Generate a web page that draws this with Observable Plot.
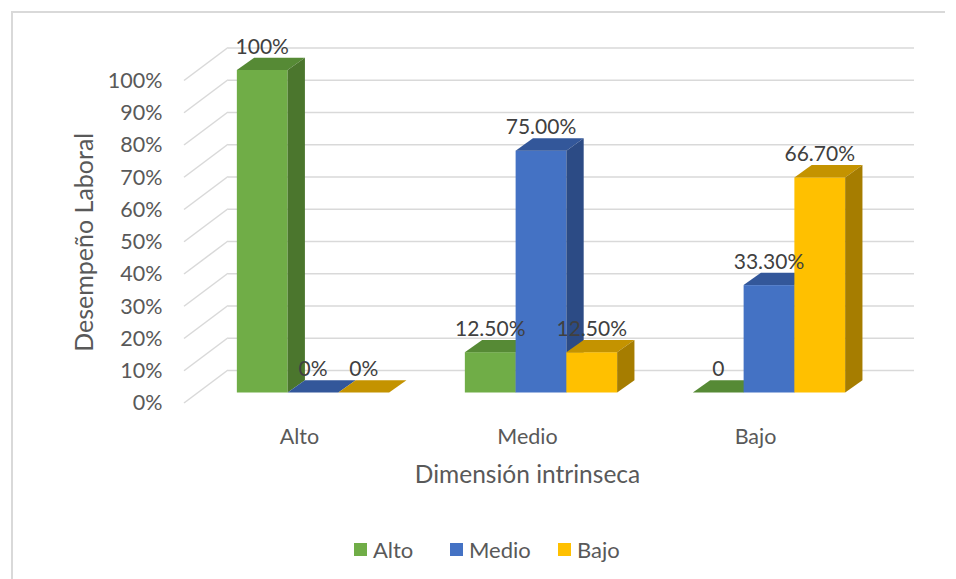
<!DOCTYPE html>
<html><head><meta charset="utf-8">
<script src="https://cdn.jsdelivr.net/npm/d3@7"></script>
<script src="https://cdn.jsdelivr.net/npm/@observablehq/plot@0.6"></script>
<style>
body{margin:0;background:#fff;font-family:Lato,"Open Sans",sans-serif;}
#wrap{position:relative;width:956px;height:579px;overflow:hidden;background:#fff}
#chart{position:absolute;left:0;top:0}
.bt{position:absolute;left:11px;top:11px;width:934px;height:1.5px;background:#d9d9d9}
.bl{position:absolute;left:11px;top:11px;width:1.5px;height:568px;background:#d9d9d9}
#legend{position:absolute;top:520px;left:0;width:956px;height:59px}
.item{position:absolute;top:0;height:59px;display:flex;align-items:center;font-size:22px;color:#595959;white-space:nowrap}
.sw{width:13px;height:13px;margin-right:6px}
</style></head>
<body>
<div id="wrap"><div class="bt"></div><div class="bl"></div><div id="chart"></div><div id="legend"></div></div>
<script>
const categories = ["Alto", "Medio", "Bajo"];
const series = ["Alto", "Medio", "Bajo"];
const altoValues = [1.00, 0.125, 0];
const medioValues = [0, 0.75, 0.333];
const bajoValues = [0, 0.125, 0.667];
const altoLabels = ["100%", "12.50%", "0"];
const medioLabels = ["0%", "75.00%", "33.30%"];
const bajoLabels = ["0%", "12.50%", "66.70%"];
const yTicks = [0, 0.1, 0.2, 0.3, 0.4, 0.5, 0.6, 0.7, 0.8, 0.9, 1.0];
const yTickLabels = ["0%", "10%", "20%", "30%", "40%", "50%", "60%", "70%", "80%", "90%", "100%"];

const colors = ["#70AD47", "#4472C4", "#FFC000"];
const topColors = ["#568A35", "#33579A", "#C49300"];
const sideColors = ["#4B762D", "#2C4B85", "#A67D00"];

const seriesValues = [altoValues, medioValues, bajoValues];
const seriesLabels = [altoLabels, medioLabels, bajoLabels];
const rows = [];
categories.forEach((c, i) => series.forEach((s, j) => rows.push({cat: c, series: s, si: j, value: seriesValues[j][i], label: seriesLabels[j][i]})));

const W = 956, H = 520;
const mL = 184, mR = 86, mT = 80.5, mB = 117;
const backDx = 44, backDy = -33;   // back wall offset
const frontDx = 14, frontDy = -10.5; // bar front face offset
const depthDx = 17.3, depthDy = -12.3; // bar depth

function bars3d(index, scales, values, dimensions) {
  const {x, y} = scales;
  const bw = typeof x.bandwidth === "function" ? x.bandwidth() : x.bandwidth;
  const g = d3.create("svg:g");
  const left = dimensions.marginLeft;
  g.append("g").selectAll("line").data(yTicks).join("line")
    .attr("x1", left).attr("y1", d => y(d))
    .attr("x2", left + backDx).attr("y2", d => y(d) + backDy)
    .attr("stroke", "#d9d9d9").attr("stroke-width", 1.5);
  const groupW = bw * 0.668, barW = groupW / 3;
  const y0 = y(0) + frontDy;
  const bars = g.append("g");
  rows.forEach(r => {
    const x0 = x(r.cat) + (bw - groupW) / 2 + frontDx + r.si * barW;
    const yt = y(r.value) + frontDy;
    bars.append("rect").attr("x", x0).attr("y", yt).attr("width", barW).attr("height", Math.max(0, y0 - yt)).attr("fill", colors[r.si]);
    bars.append("polygon").attr("points", [[x0, yt], [x0 + depthDx, yt + depthDy], [x0 + barW + depthDx, yt + depthDy], [x0 + barW, yt]].map(p => p.join(",")).join(" ")).attr("fill", topColors[r.si]);
    bars.append("polygon").attr("points", [[x0 + barW, yt], [x0 + barW + depthDx, yt + depthDy], [x0 + barW + depthDx, y0 + depthDy], [x0 + barW, y0]].map(p => p.join(",")).join(" ")).attr("fill", sideColors[r.si]);
  });
  g.append("g").selectAll("text").data(rows).join("text")
    .attr("x", r => x(r.cat) + (bw - groupW) / 2 + frontDx + (r.si + 0.5) * barW)
    .attr("y", r => y(r.value) + frontDy - 24)
    .attr("dy", "0.36em")
    .attr("text-anchor", "middle")
    .attr("fill", "#404040")
    .attr("font-size", 21)
    .text(r => r.label);
  return g.node();
}

const plot = Plot.plot({
  width: W, height: H,
  marginLeft: mL, marginRight: mR, marginTop: mT, marginBottom: mB,
  style: {fontFamily: "Lato, 'Open Sans', sans-serif", fontSize: "21.5px", color: "#595959", background: "transparent"},
  x: {type: "band", domain: categories, padding: 0, tickSize: 0, tickPadding: 25, label: null},
  y: {domain: [0, 1], ticks: yTicks, tickFormat: (d) => yTickLabels[yTicks.indexOf(d)], tickSize: 0, tickPadding: 22, label: null},
  marks: [
    Plot.ruleY(yTicks, {stroke: "#d9d9d9", strokeWidth: 1.5, dx: backDx, dy: backDy}),
    bars3d,
    Plot.text(["Desempeño Laboral"], {text: d => d, frameAnchor: "left", textAnchor: "middle", rotate: -90, dx: -100, fontSize: 25, fill: "#595959"}),
    Plot.text(["Dimensión intrinseca"], {text: d => d, frameAnchor: "bottom", textAnchor: "middle", dy: 79, fontSize: 24.5, fill: "#595959"})
  ]
});
document.getElementById("chart").appendChild(plot);

const legendX = [354, 450, 558];
const legend = document.getElementById("legend");
series.forEach((s, j) => {
  const it = document.createElement("div");
  it.className = "item";
  it.style.left = legendX[j] + "px";
  it.innerHTML = `<span class="sw" style="background:${colors[j]}"></span><span>${s}</span>`;
  legend.appendChild(it);
});
</script>
</body></html>
